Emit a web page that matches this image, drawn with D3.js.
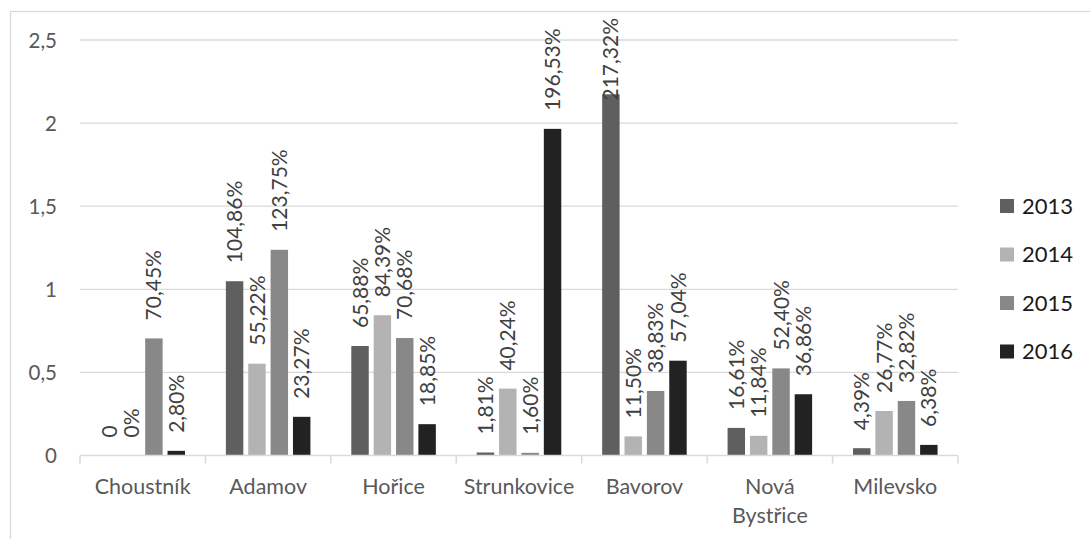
<!DOCTYPE html>
<html>
<head>
<meta charset="utf-8">
<script src="https://cdn.jsdelivr.net/npm/d3@7/dist/d3.min.js"></script>
<style>
  html, body { margin: 0; padding: 0; background: #fff; }
  svg { display: block; font-family: Lato, "Open Sans", sans-serif; }
</style>
</head>
<body>
<svg id="chart" width="1090" height="539"></svg>
<script>
// Municipalities on the category axis
const categories = ["Choustník", "Adamov", "Hořice", "Strunkovice", "Bavorov", "Nová Bystřice", "Milevsko"];
const years = ["2013", "2014", "2015", "2016"];

// Yearly shares per municipality (1 = 100 %); null = plain zero cell
const values2013 = [null, 1.0486, 0.6588, 0.0181, 2.1732, 0.1661, 0.0439];
const values2014 = [0, 0.5522, 0.8439, 0.4024, 0.1150, 0.1184, 0.2677];
const values2015 = [0.7045, 1.2375, 0.7068, 0.0160, 0.3883, 0.5240, 0.3282];
const values2016 = [0.0280, 0.2327, 0.1885, 1.9653, 0.5704, 0.3686, 0.0638];

const yTicks = [0, 0.5, 1, 1.5, 2, 2.5];
const yTickLabels = ["0", "0,5", "1", "1,5", "2", "2,5"];

const seriesColors = ["#5f5f5f", "#b3b3b3", "#888888", "#222222"];

const series = [values2013, values2014, values2015, values2016];
const rows = [];
categories.forEach((c, i) => {
  years.forEach((y, j) => rows.push({ category: c, year: y, value: series[j][i] }));
});

const cz = d3.formatLocale({ decimal: ",", thousands: "\u00a0", grouping: [3], currency: ["", " Kč"] });
const pct = cz.format(".2%");
const labelText = v => v === null ? "0" : (v === 0 ? "0%" : pct(v));

const svg = d3.select("#chart");
const plot = { left: 80, right: 958, top: 40, bottom: 455.5 };

// chart frame
svg.append("rect")
  .attr("x", 10.5).attr("y", 11.5)
  .attr("width", 1200).attr("height", 700)
  .attr("fill", "none").attr("stroke", "#d9d9d9").attr("stroke-width", 1.3);

const x0 = d3.scaleBand().domain(categories).range([plot.left, plot.right]).padding(0);
const cw = x0.bandwidth();
const x1 = d3.scaleBand().domain(years)
  .range([cw * 0.163, cw * 0.837]).paddingInner(0.22).paddingOuter(0);
const y = d3.scaleLinear().domain([0, 2.5]).range([plot.bottom, plot.top]);
const color = d3.scaleOrdinal().domain(years).range(seriesColors);

// horizontal gridlines
svg.append("g")
  .selectAll("line")
  .data(yTicks.filter(t => t > 0))
  .join("line")
  .attr("x1", plot.left).attr("x2", plot.right)
  .attr("y1", d => y(d)).attr("y2", d => y(d))
  .attr("stroke", "#d9d9d9").attr("stroke-width", 1.3);

// y axis labels
const yAxis = d3.axisLeft(y).tickValues(yTicks)
  .tickFormat((d, i) => yTickLabels[i]).tickSize(0).tickPadding(0);
const gy = svg.append("g").attr("transform", `translate(${plot.left - 23},0)`).call(yAxis);
gy.select(".domain").remove();
gy.selectAll("text")
  .attr("font-family", "Lato, sans-serif").attr("font-size", 20.5)
  .attr("fill", "#595959").attr("dy", "0.36em");

// bars
const groups = svg.append("g")
  .selectAll("g")
  .data(categories)
  .join("g")
  .attr("transform", d => `translate(${x0(d)},0)`);

groups.selectAll("rect")
  .data(c => rows.filter(r => r.category === c))
  .join("rect")
  .attr("x", d => x1(d.year))
  .attr("width", x1.bandwidth())
  .attr("y", d => y(d.value || 0))
  .attr("height", d => y(0) - y(d.value || 0))
  .attr("fill", d => color(d.year));

// category axis
const xAxis = d3.axisBottom(x0).tickSize(0).tickPadding(0);
const gx = svg.append("g").attr("transform", `translate(0,${plot.bottom})`).call(xAxis);
gx.select(".domain").remove();
gx.append("line")
  .attr("x1", plot.left).attr("x2", plot.right).attr("y1", 0).attr("y2", 0)
  .attr("stroke", "#d9d9d9").attr("stroke-width", 1.5);
gx.selectAll(".boundary")
  .data(d3.range(categories.length + 1))
  .join("line")
  .attr("class", "boundary")
  .attr("x1", i => plot.left + i * cw).attr("x2", i => plot.left + i * cw)
  .attr("y1", 0).attr("y2", 8)
  .attr("stroke", "#d9d9d9").attr("stroke-width", 1.5);

gx.selectAll(".tick text")
  .attr("font-family", "Lato, sans-serif").attr("font-size", 21.5)
  .attr("fill", "#595959").attr("dy", 0).attr("y", 38.5)
  .each(function (d) {
    const t = d3.select(this);
    if (this.getComputedTextLength() > cw - 4 && d.includes(" ")) {
      const parts = d.split(" ");
      t.text(null);
      parts.forEach((p, i) => t.append("tspan").attr("x", 0).attr("dy", i === 0 ? 0 : 29).text(p));
    }
  });

// rotated value labels
const labelGap = 18;
const minTop = 18;
groups.selectAll("text")
  .data(c => rows.filter(r => r.category === c))
  .join("text")
  .attr("font-family", "Lato, sans-serif").attr("font-size", 21)
  .attr("fill", "#404040")
  .attr("dy", "0.36em")
  .text(d => labelText(d.value))
  .each(function (d) {
    const len = this.getComputedTextLength();
    let start = y(d.value || 0) - labelGap;
    if (start - len < minTop) start = minTop + len;
    const cx = x1(d.year) + x1.bandwidth() / 2;
    d3.select(this).attr("transform", `translate(${cx},${start}) rotate(-90)`);
  });

// legend
const legend = svg.append("g").attr("transform", "translate(1000,199)");
const items = legend.selectAll("g").data(years).join("g")
  .attr("transform", (d, i) => `translate(0,${i * 48.5})`);
items.append("rect").attr("width", 14).attr("height", 14).attr("fill", d => color(d));
items.append("text")
  .attr("x", 22).attr("y", 7).attr("dy", "0.36em")
  .attr("font-family", "Lato, sans-serif").attr("font-size", 22)
  .attr("fill", "#1a1a1a")
  .text(d => d);
</script>
</body>
</html>
